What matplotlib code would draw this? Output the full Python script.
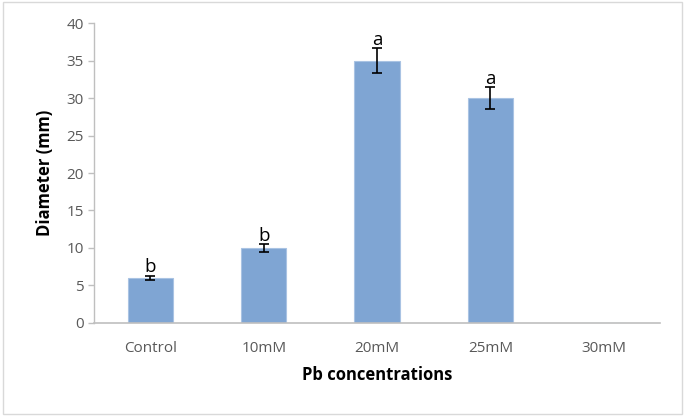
import matplotlib.pyplot as plt
from matplotlib.patches import Rectangle

# dados do gráfico
concentracoes = ["Control", "10mM", "20mM", "25mM", "30mM"]
diametro = [6, 10, 35, 30, 0]
erro = [0.3, 0.5, 1.7, 1.5, 0]
letras = ["b", "b", "a", "a", ""]

plt.rcParams['font.family'] = ['Open Sans', 'DejaVu Sans']

fig = plt.figure(figsize=(6.85, 4.16), dpi=100)
ax = fig.add_axes([0.137, 0.224, 0.827, 0.72])

x = range(len(concentracoes))
ax.bar(x, diametro, width=0.4, color='#7fa5d3', edgecolor='#a9c3e3', linewidth=0.8, zorder=2)
ax.errorbar(x[:4], diametro[:4], yerr=erro[:4], fmt='none', ecolor='black',
            elinewidth=1.2, capsize=3.5, capthick=1.2, zorder=3)

for i, (v, e, l) in enumerate(zip(diametro, erro, letras)):
    if l:
        ax.text(i, v + e - 0.1, l, ha='center', va='bottom', fontsize=13.5, color='black', zorder=4)

ax.set_xlim(-0.5, 4.5)
ax.set_ylim(0, 40)
ax.set_yticks(range(0, 41, 5))
ax.set_xticks(list(x))
ax.set_xticklabels(concentracoes)

for s in ['top', 'right']:
    ax.spines[s].set_visible(False)
ax.spines['left'].set_color('#bfbfbf')
ax.spines['bottom'].set_color('#bfbfbf')
ax.spines['left'].set_linewidth(1)
ax.spines['bottom'].set_linewidth(1.2)
ax.tick_params(axis='y', colors='#595959', labelsize=11, length=4, width=1, color='#bfbfbf', pad=3)
ax.tick_params(axis='x', colors='#595959', labelsize=11, length=0, pad=13)

ax.set_xlabel("Pb concentrations", fontsize=12, fontweight='bold', labelpad=7)
ax.set_ylabel("Diameter (mm)", fontsize=12, fontweight='bold', labelpad=9)

# moldura externa
fig.patches.append(Rectangle((0.004, 0.005), 0.992, 0.99, transform=fig.transFigure,
                             fill=False, edgecolor='#d9d9d9', linewidth=1))

plt.savefig("out.png", dpi=100)
